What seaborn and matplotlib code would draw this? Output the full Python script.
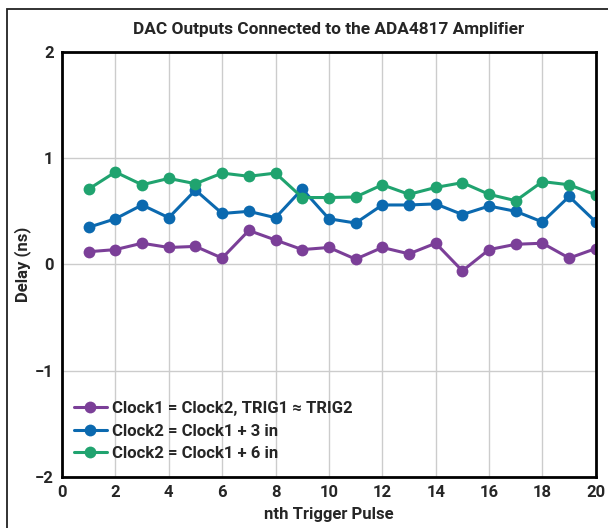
import pandas as pd
import seaborn as sns
import matplotlib.pyplot as plt
from matplotlib.patches import Rectangle

# values
pulse = list(range(1, 21))
same_clock = [0.12, 0.14, 0.20, 0.16, 0.17, 0.06, 0.32, 0.23, 0.14, 0.16,
              0.05, 0.16, 0.10, 0.20, -0.06, 0.14, 0.19, 0.20, 0.06, 0.15]
plus_3in = [0.35, 0.43, 0.56, 0.44, 0.70, 0.48, 0.50, 0.44, 0.71, 0.43,
            0.39, 0.56, 0.56, 0.57, 0.47, 0.55, 0.50, 0.40, 0.64, 0.40]
plus_6in = [0.71, 0.87, 0.75, 0.81, 0.76, 0.86, 0.83, 0.86, 0.63, 0.63,
            0.635, 0.75, 0.66, 0.725, 0.77, 0.66, 0.60, 0.78, 0.75, 0.655]
series_names = ["Clock1 = Clock2, TRIG1 ≈ TRIG2",
                "Clock2 = Clock1 + 3 in",
                "Clock2 = Clock1 + 6 in"]
colors = ["#7B3F98", "#0B69AF", "#20A36F"]

df = pd.concat([
    pd.DataFrame({"pulse": pulse, "delay": vals, "series": name})
    for name, vals in zip(series_names, [same_clock, plus_3in, plus_6in])
], ignore_index=True)

sns.set_style("white")
plt.rcParams["font.family"] = ["Roboto", "DejaVu Sans"]

fig = plt.figure(figsize=(6.08, 5.28), dpi=100)
ax = fig.add_axes([0.102, 0.0966, 0.878, 0.805])

sns.lineplot(data=df, x="pulse", y="delay", hue="series", hue_order=series_names,
             palette=colors, marker="o", markersize=8.5, markeredgewidth=0,
             linewidth=2.2, ax=ax)

ax.set_xlim(0, 20)
ax.set_ylim(-2, 2)
ax.set_xticks(range(0, 21, 2))
ax.set_yticks([-2, -1, 0, 1, 2])
ax.set_yticklabels(["\u22122", "\u22121", "0", "1", "2"])
ax.grid(True, color="#cccccc", linewidth=1)
ax.tick_params(length=0, labelsize=12, pad=6)
for lab in ax.get_xticklabels() + ax.get_yticklabels():
    lab.set_fontweight("bold")
for sp in ax.spines.values():
    sp.set_color("black")
    sp.set_linewidth(2)

ax.set_xlabel("nth Trigger Pulse", fontsize=12, fontweight="bold")
ax.xaxis.set_label_coords(0.5, -0.07)
ax.set_ylabel("Delay (ns)", fontsize=12, fontweight="bold")
ax.yaxis.set_label_coords(-0.058, 0.5)
ax.set_title("DAC Outputs Connected to the ADA4817 Amplifier", fontsize=12.4,
             fontweight="bold", pad=13)

leg = ax.legend(loc="lower left", bbox_to_anchor=(-0.008, 0.0), frameon=False,
                fontsize=12, handlelength=2.0, handletextpad=0.3,
                labelspacing=0.45, borderaxespad=0.55)
for t in leg.get_texts():
    t.set_fontweight("bold")

# outer frame round the figure (left and top edges visible)
fig.patches.append(Rectangle((7 / 608, -0.05), 1.2, 1 - 9 / 528 + 0.05,
                             transform=fig.transFigure, fill=False,
                             edgecolor="#222222", linewidth=1.3))

fig.savefig("out.png", dpi=100)
